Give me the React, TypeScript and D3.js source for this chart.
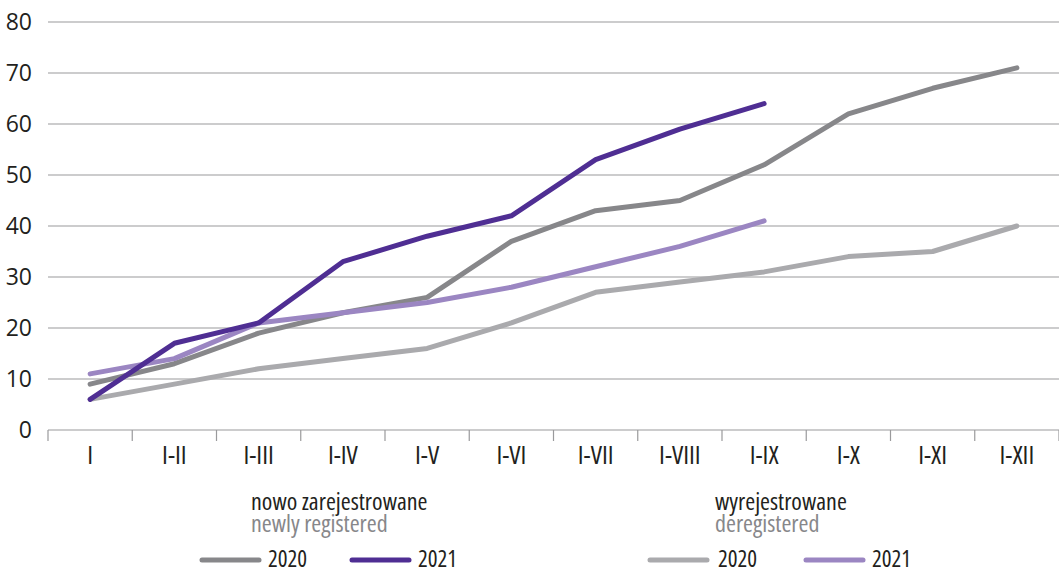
import React from "react";
import * as d3 from "d3";

const categories = ["I", "I-II", "I-III", "I-IV", "I-V", "I-VI", "I-VII", "I-VIII", "I-IX", "I-X", "I-XI", "I-XII"];
const new2020 = [9, 13, 19, 23, 26, 37, 43, 45, 52, 62, 67, 71];
const new2021 = [6, 17, 21, 33, 38, 42, 53, 59, 64];
const dereg2020 = [6, 9, 12, 14, 16, 21, 27, 29, 31, 34, 35, 40];
const dereg2021 = [11, 14, 21, 23, 25, 28, 32, 36, 41];
const yTicks = [0, 10, 20, 30, 40, 50, 60, 70, 80];

const W = 1059, H = 570;
const left = 48, right = 1059, top = 22, bottom = 430;
const FONT = "'Open Sans', 'DejaVu Sans', sans-serif";

const series = [
  { values: dereg2020, color: "#aaaaad" },
  { values: new2020, color: "#87878a" },
  { values: dereg2021, color: "#9b86c2" },
  { values: new2021, color: "#4f2e93" },
];

const condensed = { fontStretch: "75%" } as React.CSSProperties;

export default function App() {
  const x = d3.scaleBand<string>().domain(categories).range([left, right]);
  const y = d3.scaleLinear().domain([0, 80]).range([bottom, top]);
  const line = d3
    .line<number>()
    .x((_, i) => (x(categories[i]) as number) + x.bandwidth() / 2)
    .y((d) => y(d));
  const boundaries = categories.map((c) => x(c) as number).concat([right]);

  return (
    <svg width={W} height={H} style={{ position: "absolute", left: 0, top: 0, background: "#fff" }} fontFamily={FONT}>
      {yTicks.map((t) => (
        <g key={t}>
          <line x1={left} x2={right} y1={y(t)} y2={y(t)} stroke="#9a9a9c" strokeWidth={1.2} />
          <text x={32} y={y(t)} dy="0.36em" textAnchor="end" fontSize={23} fill="#231f20">
            {t}
          </text>
        </g>
      ))}
      {boundaries.map((b, i) => (
        <line key={i} x1={b} x2={b} y1={bottom} y2={bottom + 11} stroke="#9a9a9c" strokeWidth={1.2} />
      ))}
      {categories.map((c) => (
        <text key={c} x={(x(c) as number) + x.bandwidth() / 2} y={464} textAnchor="middle" fontSize={26} fill="#231f20" style={condensed}>
          {c}
        </text>
      ))}
      {series.map((s, i) => (
        <path key={i} d={line(s.values) || ""} fill="none" stroke={s.color} strokeWidth={5} strokeLinecap="round" strokeLinejoin="round" />
      ))}
      {/* legend */}
      <text x={251} y={510} fontSize={24} fill="#231f20" style={condensed}>nowo zarejestrowane</text>
      <text x={251} y={532} fontSize={24} fill="#87878a" style={condensed}>newly registered</text>
      <line x1={202} x2={259} y1={560} y2={560} stroke="#87878a" strokeWidth={5} strokeLinecap="round" />
      <text x={268} y={567} fontSize={23} fill="#231f20" style={condensed}>2020</text>
      <line x1={352} x2={409} y1={560} y2={560} stroke="#4f2e93" strokeWidth={5} strokeLinecap="round" />
      <text x={418} y={567} fontSize={23} fill="#231f20" style={condensed}>2021</text>

      <text x={715} y={510} fontSize={24} fill="#231f20" style={condensed}>wyrejestrowane</text>
      <text x={715} y={532} fontSize={24} fill="#87878a" style={condensed}>deregistered</text>
      <line x1={650} x2={707} y1={560} y2={560} stroke="#aaaaad" strokeWidth={5} strokeLinecap="round" />
      <text x={718} y={567} fontSize={23} fill="#231f20" style={condensed}>2020</text>
      <line x1={806} x2={863} y1={560} y2={560} stroke="#9b86c2" strokeWidth={5} strokeLinecap="round" />
      <text x={872} y={567} fontSize={23} fill="#231f20" style={condensed}>2021</text>
    </svg>
  );
}
